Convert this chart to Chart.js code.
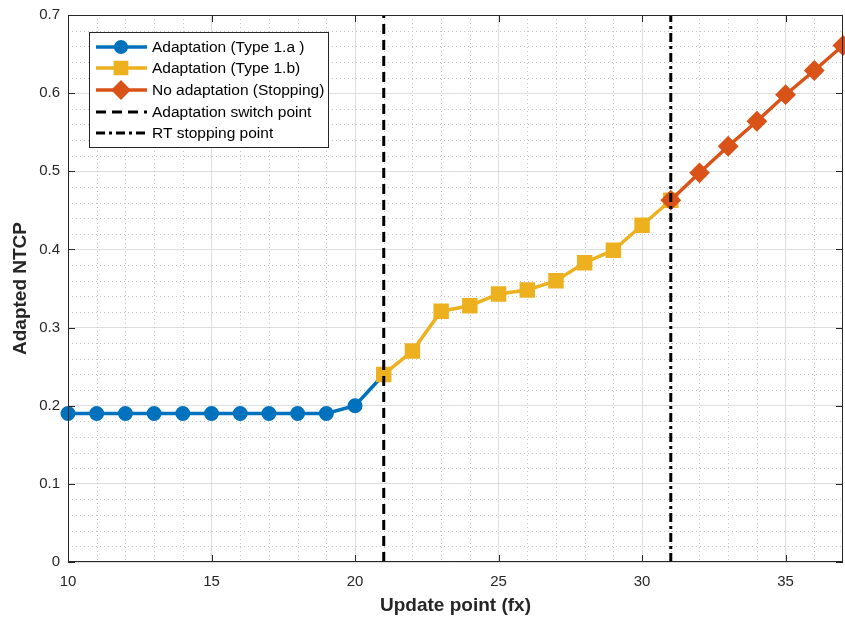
<!DOCTYPE html>
<html>
<head>
<meta charset="utf-8">
<script src="https://cdn.jsdelivr.net/npm/chart.js@4/dist/chart.umd.min.js"></script>
<style>
  html, body { margin: 0; padding: 0; background: #fff; }
  #wrap { width: 845px; height: 618px; }
</style>
</head>
<body>
<div id="wrap"><canvas id="ntcpChart" width="845" height="618"></canvas></div>
<script>
// valores
const xTicks = [10, 15, 20, 25, 30, 35];
const yTicks = [0, 0.1, 0.2, 0.3, 0.4, 0.5, 0.6, 0.7];

const type1aX = [10, 11, 12, 13, 14, 15, 16, 17, 18, 19, 20, 21];
const type1aY = [0.19, 0.19, 0.19, 0.19, 0.19, 0.19, 0.19, 0.19, 0.19, 0.19, 0.20, 0.24];

const type1bX = [21, 22, 23, 24, 25, 26, 27, 28, 29, 30, 31];
const type1bY = [0.24, 0.27, 0.321, 0.328, 0.343, 0.348, 0.36, 0.383, 0.399, 0.431, 0.463];

const stopX = [31, 32, 33, 34, 35, 36, 37];
const stopY = [0.463, 0.498, 0.532, 0.564, 0.598, 0.629, 0.661];

const switchPoint = 21;
const stoppingPoint = 31;

const labels = [
    'Adaptation (Type 1.a )',
    'Adaptation (Type 1.b)',
    'No adaptation (Stopping)',
    'Adaptation switch point',
    'RT stopping point'
];

const azul = '#0072BD';
const amarillo = '#EDB120';
const naranja = '#D95319';
const ejeColor = '#262626';
const fuente = '"Liberation Sans", Arial, sans-serif';

const toPoints = (xs, ys) => xs.map((x, i) => ({ x: x, y: ys[i] }));

// Dibuja rejilla menor, caja, ticks hacia dentro y la leyenda estilo MATLAB
const matlabAxes = {
    id: 'matlabAxes',
    beforeDatasetsDraw(chart) {
        const { ctx, chartArea: a, scales: { x, y } } = chart;
        ctx.save();
        ctx.strokeStyle = '#c4c4c4';
        ctx.lineWidth = 1;
        ctx.setLineDash([1, 3]);
        for (let v = x.min + 1; v < x.max; v++) {
            if (v % 5 === 0) continue;
            const px = Math.round(x.getPixelForValue(v)) + 0.5;
            ctx.beginPath(); ctx.moveTo(px, a.top); ctx.lineTo(px, a.bottom); ctx.stroke();
        }
        for (let k = 1; k < 35; k++) {
            if (k % 5 === 0) continue;
            const py = Math.round(y.getPixelForValue(k * 0.02)) + 0.5;
            ctx.beginPath(); ctx.moveTo(a.left, py); ctx.lineTo(a.right, py); ctx.stroke();
        }
        ctx.restore();
    },
    afterDatasetsDraw(chart) {
        const { ctx, chartArea: a, scales: { x, y } } = chart;
        ctx.save();
        ctx.strokeStyle = ejeColor;
        ctx.lineWidth = 1;
        ctx.setLineDash([]);
        ctx.strokeRect(a.left + 0.5, a.top + 0.5, a.right - a.left - 1, a.bottom - a.top - 1);
        const tl = 7;
        ctx.beginPath();
        xTicks.forEach(v => {
            const px = Math.round(x.getPixelForValue(v)) + 0.5;
            ctx.moveTo(px, a.bottom); ctx.lineTo(px, a.bottom - tl);
            ctx.moveTo(px, a.top); ctx.lineTo(px, a.top + tl);
        });
        yTicks.forEach(v => {
            const py = Math.round(y.getPixelForValue(v)) + 0.5;
            ctx.moveTo(a.left, py); ctx.lineTo(a.left + tl, py);
            ctx.moveTo(a.right, py); ctx.lineTo(a.right - tl, py);
        });
        ctx.stroke();

        // leyenda
        const bx = 89, by = 32, bw = 239, bh = 115;
        ctx.fillStyle = '#fff';
        ctx.fillRect(bx, by, bw, bh);
        ctx.strokeStyle = ejeColor;
        ctx.strokeRect(bx + 0.5, by + 0.5, bw, bh);
        ctx.font = '15.5px ' + fuente;
        ctx.textBaseline = 'middle';
        const rows = [47, 68, 90, 112, 133];
        chart.data.datasets.forEach((ds, i) => {
            const cy = rows[i];
            ctx.save();
            ctx.strokeStyle = ds.borderColor;
            ctx.lineWidth = ds.borderWidth;
            ctx.setLineDash(ds.borderDash || []);
            ctx.beginPath(); ctx.moveTo(96, cy); ctx.lineTo(147, cy); ctx.stroke();
            ctx.restore();
            if (ds.pointRadius > 0) {
                ctx.save();
                ctx.fillStyle = ds.pointBackgroundColor;
                ctx.strokeStyle = ds.pointBorderColor;
                ctx.lineWidth = ds.pointBorderWidth;
                Chart.helpers.drawPoint(ctx, {
                    pointStyle: ds.pointStyle,
                    radius: ds.pointRadius - 0.5,
                    rotation: 0,
                    borderWidth: ds.pointBorderWidth
                }, 121, cy);
                ctx.restore();
            }
            ctx.fillStyle = '#000';
            ctx.fillText(ds.label, 152, cy + 1);
        });
        ctx.restore();
    }
};

const serie = (label, xs, ys, color, style, radius, order) => ({
    label: label,
    data: toPoints(xs, ys),
    borderColor: color,
    backgroundColor: color,
    pointBackgroundColor: color,
    pointBorderColor: color,
    pointBorderWidth: 2,
    pointStyle: style,
    pointRadius: radius,
    borderWidth: 3.5,
    order: order
});

const vline = (label, xv, dash) => ({
    label: label,
    data: [{ x: xv, y: 0 }, { x: xv, y: 0.7 }],
    borderColor: '#000',
    backgroundColor: '#000',
    borderWidth: 3,
    borderDash: dash,
    pointRadius: 0,
    order: 0
});

const ctx = document.getElementById('ntcpChart').getContext('2d');

const ntcpChart = new Chart(ctx, {
    type: 'line',
    data: {
        datasets: [
            serie(labels[0], type1aX, type1aY, azul, 'circle', 6.5, 3),
            serie(labels[1], type1bX, type1bY, amarillo, 'rect', 9.5, 2),
            serie(labels[2], stopX, stopY, naranja, 'rectRot', 9, 1),
            vline(labels[3], switchPoint, [10, 6]),
            vline(labels[4], stoppingPoint, [9, 4, 3, 4])
        ]
    },
    options: {
        responsive: false,
        animation: false,
        clip: false,
        layout: { autoPadding: false, padding: { top: 15, right: 2, left: 0, bottom: 0 } },
        plugins: {
            legend: { display: false },
            tooltip: { enabled: false }
        },
        scales: {
            x: {
                type: 'linear',
                min: 10,
                max: 37,
                afterBuildTicks: scale => { scale.ticks = xTicks.map(v => ({ value: v })); },
                afterFit: scale => {
                    scale.height = 56;
                    scale.paddingLeft = 0;
                    scale.paddingRight = 0;
                },
                grid: { color: '#dedede', drawTicks: false },
                border: { display: false },
                ticks: {
                    padding: 11,
                    color: ejeColor,
                    font: { family: fuente, size: 15 },
                    maxRotation: 0,
                    callback: v => String(v)
                },
                title: {
                    display: true,
                    text: 'Update point (fx)',
                    color: ejeColor,
                    padding: { top: 0, bottom: 1 },
                    font: { family: fuente, size: 19, weight: 'bold' }
                }
            },
            y: {
                min: 0,
                max: 0.7,
                afterBuildTicks: scale => { scale.ticks = yTicks.map(v => ({ value: v })); },
                afterFit: scale => {
                    scale.width = 68;
                    scale.paddingTop = 0;
                    scale.paddingBottom = 0;
                },
                grid: { color: '#dedede', drawTicks: false },
                border: { display: false },
                ticks: {
                    padding: 8,
                    color: ejeColor,
                    font: { family: fuente, size: 15 },
                    callback: v => v === 0 ? '0' : v.toFixed(1)
                },
                title: {
                    display: true,
                    text: 'Adapted NTCP',
                    color: ejeColor,
                    padding: { top: 9, bottom: 0 },
                    font: { family: fuente, size: 19, weight: 'bold' }
                }
            }
        }
    },
    plugins: [matlabAxes]
});
</script>
</body>
</html>
